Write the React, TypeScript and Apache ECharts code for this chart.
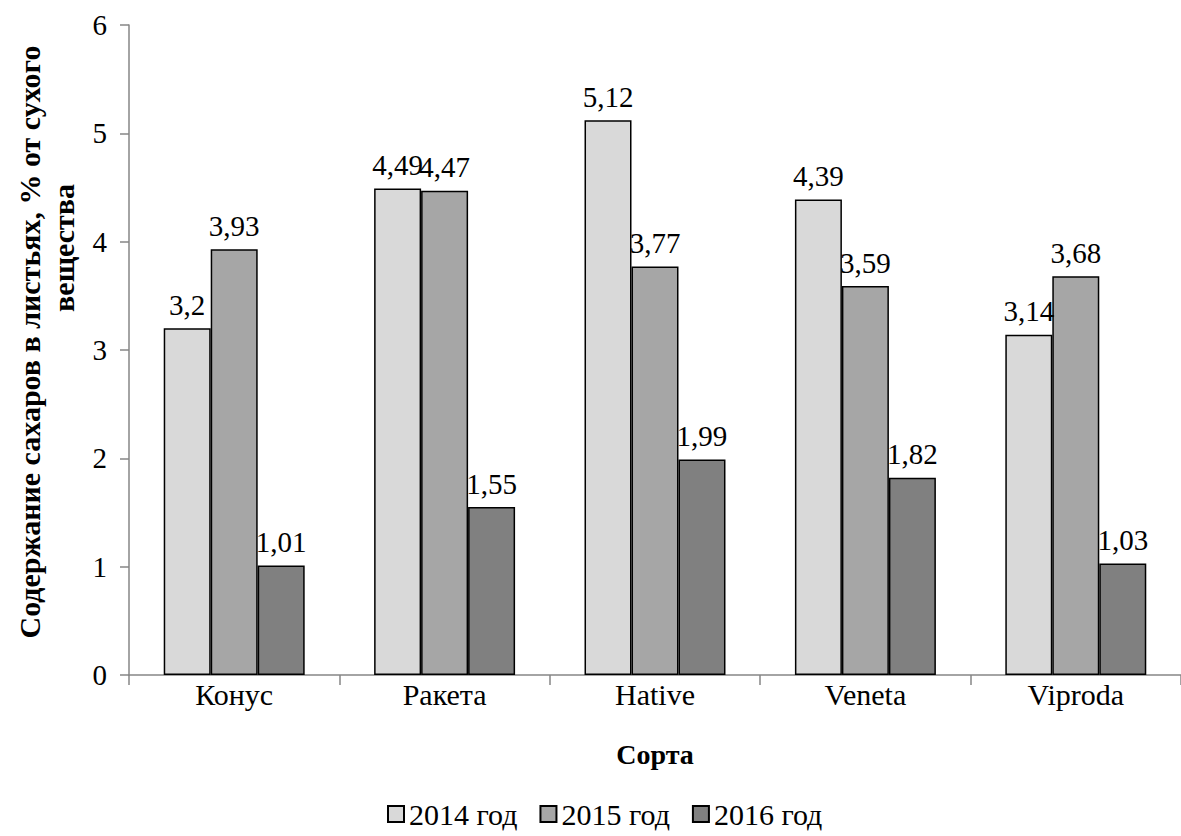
import React, { useEffect, useRef } from "react";
import * as echarts from "echarts";

const categories = ["Конус", "Ракета", "Hative", "Veneta", "Viproda"];
const seriesNames = ["2014 год", "2015 год", "2016 год"];
const values2014 = [3.2, 4.49, 5.12, 4.39, 3.14];
const values2015 = [3.93, 4.47, 3.77, 3.59, 3.68];
const values2016 = [1.01, 1.55, 1.99, 1.82, 1.03];
const colors = ["#d9d9d9", "#a6a6a6", "#808080"];
const yTitle1 = "Содержание сахаров в листьях, % от сухого";
const yTitle2 = "вещества";
const xTitle = "Сорта";

const FONT = "Liberation Serif";
const NUM = 29;
const TXT = 30;

export default function App() {
  const ref = useRef<HTMLDivElement>(null);
  useEffect(() => {
    document.body.style.margin = "0";
    const chart = echarts.init(ref.current!, null, { renderer: "svg" });
    const data = [values2014, values2015, values2016];
    chart.setOption({
      animation: false,
      textStyle: { fontFamily: FONT, fontSize: NUM, color: "#000" },
      grid: { left: 129, top: 25, width: 1065, height: 650, containLabel: false },
      legend: {
        bottom: 2,
        left: 382,
        itemWidth: 16,
        itemHeight: 16,
        itemGap: 22,
        icon: "rect",
        textStyle: { fontFamily: FONT, fontSize: TXT, color: "#000" },
        data: seriesNames,
      },
      xAxis: {
        type: "category",
        data: categories,
        axisLine: { lineStyle: { color: "#868686", width: 1.5 } },
        axisTick: { show: true, length: 10, lineStyle: { color: "#868686", width: 1.5 } },
        axisLabel: { fontFamily: FONT, fontSize: TXT, color: "#000", margin: 4 },
        name: xTitle,
        nameLocation: "middle",
        nameGap: 65,
        nameTextStyle: { fontFamily: FONT, fontSize: 28, fontWeight: "bold", color: "#000" },
      },
      yAxis: {
        type: "value",
        min: 0,
        max: 6,
        interval: 1,
        splitLine: { show: false },
        axisLine: { show: true, lineStyle: { color: "#868686", width: 1.5 } },
        axisTick: { show: true, length: 9, lineStyle: { color: "#868686", width: 1.5 } },
        axisLabel: { fontFamily: FONT, fontSize: NUM, color: "#000", margin: 22 },
      },
      graphic: [
        {
          type: "text",
          x: 29,
          y: 342,
          rotation: Math.PI / 2,
          style: {
            text: yTitle1,
            font: "bold 30px 'Liberation Serif'",
            fill: "#000",
            textAlign: "center",
            textVerticalAlign: "middle",
          },
        },
        {
          type: "text",
          x: 63,
          y: 248,
          rotation: Math.PI / 2,
          style: {
            text: yTitle2,
            font: "bold 30px 'Liberation Serif'",
            fill: "#000",
            textAlign: "center",
            textVerticalAlign: "middle",
          },
        },
      ],
      series: seriesNames.map((name, i) => ({
        name,
        type: "bar",
        data: data[i],
        barGap: "0%",
        barCategoryGap: "33%",
        itemStyle: { color: colors[i], borderColor: "#000", borderWidth: 1.5 },
        label: {
          show: true,
          position: "top",
          distance: 9,
          fontFamily: FONT,
          fontSize: NUM,
          color: "#000",
          formatter: (p: any) => String(p.value).replace(".", ","),
        },
      })),
    });
    return () => chart.dispose();
  }, []);
  return <div ref={ref} style={{ width: 1181, height: 836 }} />;
}
